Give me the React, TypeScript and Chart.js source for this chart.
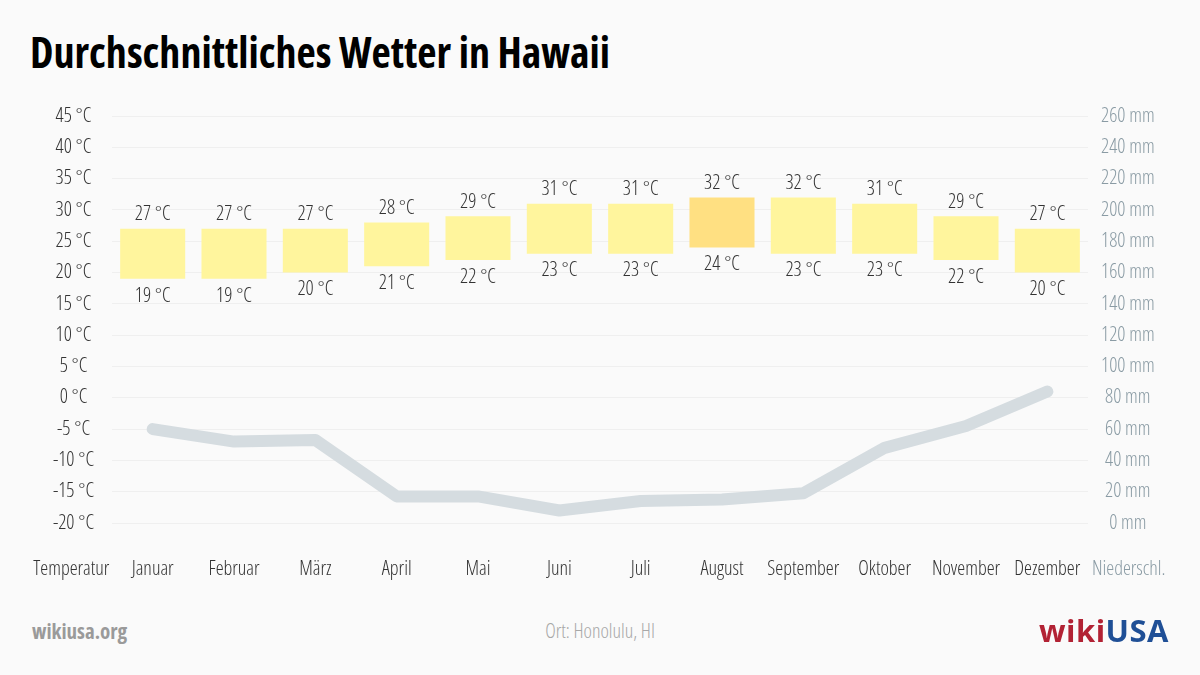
import React, { useEffect, useRef } from "react";
import { Chart, registerables } from "chart.js";

Chart.register(...registerables);

const title = "Durchschnittliches Wetter in Hawaii";
const months = ["Januar", "Februar", "März", "April", "Mai", "Juni", "Juli", "August", "September", "Oktober", "November", "Dezember"];
const tempHigh = [27, 27, 27, 28, 29, 31, 31, 32, 32, 31, 29, 27];
const tempLow = [19, 19, 20, 21, 22, 23, 23, 24, 23, 23, 22, 20];
const precipitation = [60, 52, 53, 17, 17, 8, 14, 15, 19, 48, 62, 84];
const tempAxis = { min: -20, max: 45, step: 5 };
const precipAxis = { min: 0, max: 260, step: 20 };
const leftAxisName = "Temperatur";
const rightAxisName = "Niederschl.";
const location = "Ort: Honolulu, HI";
const siteName = "wikiusa.org";

const FONT = "'Open Sans', 'DejaVu Sans Condensed', sans-serif";
const COND = "condensed 300";
const FS = 20;
const DARK = "#333333";
const BLUEGRAY = "#8a9ba4";
const BAR = "#fff59d";
const BAR_HOT = "#ffe082";
const LINE = "#d5dce0";
const GRID = "#efefef";
const X_PAD = 34;

export default function App() {
  const ref = useRef<HTMLCanvasElement | null>(null);

  useEffect(() => {
    const canvas = ref.current;
    if (!canvas) return;
    let hot = 0;
    tempHigh.forEach((h, i) => {
      if (h + tempLow[i] > tempHigh[hot] + tempLow[hot]) hot = i;
    });
    const barColors = months.map((_, i) => (i === hot ? BAR_HOT : BAR));

    const labelPlugin = {
      id: "labels",
      afterDatasetsDraw(chart: any) {
        const ctx = chart.ctx;
        const meta = chart.getDatasetMeta(1);
        ctx.save();
        ctx.font = `${COND} ${FS}px ${FONT}`;
        ctx.fillStyle = DARK;
        ctx.textAlign = "center";
        ctx.textBaseline = "middle";
        meta.data.forEach((bar: any, i: number) => {
          const top = Math.min(bar.y, bar.base);
          const bottom = Math.max(bar.y, bar.base);
          ctx.fillText(`${tempHigh[i]} °C`, bar.x, top - 14);
          ctx.fillText(`${tempLow[i]} °C`, bar.x, bottom + 17);
        });
        const xs = chart.scales.x;
        const step = xs.getPixelForValue(1) - xs.getPixelForValue(0);
        const y = xs.top + X_PAD + FS * 0.6;
        ctx.fillStyle = DARK;
        ctx.fillText(leftAxisName, xs.getPixelForValue(0) - step, y);
        ctx.fillStyle = BLUEGRAY;
        ctx.fillText(rightAxisName, xs.getPixelForValue(months.length - 1) + step, y);
        ctx.restore();
      },
    };

    const chart = new Chart(canvas, {
      type: "bar",
      data: {
        labels: months,
        datasets: [
          {
            type: "line",
            label: "Niederschlag",
            data: precipitation,
            yAxisID: "yP",
            borderColor: LINE,
            borderWidth: 12,
            borderCapStyle: "round",
            borderJoinStyle: "round",
            pointRadius: 0,
            tension: 0,
            order: 2,
          } as any,
          {
            type: "bar",
            label: "Temperatur",
            data: months.map((_, i) => [tempLow[i], tempHigh[i]]),
            yAxisID: "yT",
            backgroundColor: barColors,
            borderWidth: 0,
            barPercentage: 0.8,
            categoryPercentage: 1,
            order: 1,
          } as any,
        ],
      },
      options: {
        responsive: false,
        animation: false,
        layout: { padding: { top: 0, bottom: 1, left: 0, right: 0 } },
        plugins: { legend: { display: false }, tooltip: { enabled: false } },
        scales: {
          x: {
            grid: { display: false, drawTicks: false },
            border: { display: false },
            ticks: {
              color: DARK,
              padding: X_PAD,
              font: { family: FONT, size: FS, weight: COND as any },
              maxRotation: 0,
              autoSkip: false,
            },
          },
          yT: {
            position: "left",
            min: tempAxis.min,
            max: tempAxis.max,
            afterFit(scale: any) {
              scale.width = 112;
            },
            grid: { color: GRID, drawTicks: false, lineWidth: 1 },
            border: { display: false },
            ticks: {
              stepSize: tempAxis.step,
              color: DARK,
              padding: 18,
              crossAlign: "center",
              font: { family: FONT, size: FS, weight: COND as any },
              callback: (v: any) => `${v} °C`,
            },
          },
          yP: {
            position: "right",
            min: precipAxis.min,
            max: precipAxis.max,
            afterFit(scale: any) {
              scale.width = 112;
            },
            grid: { display: false, drawTicks: false },
            border: { display: false },
            ticks: {
              stepSize: precipAxis.step,
              color: BLUEGRAY,
              padding: 13,
              crossAlign: "center",
              font: { family: FONT, size: FS, weight: COND as any },
              callback: (v: any) => `${v} mm`,
            },
          },
        },
      },
      plugins: [labelPlugin],
    });
    return () => chart.destroy();
  }, []);

  return (
    <div
      style={{
        position: "absolute",
        left: 0,
        top: 0,
        width: 1200,
        height: 675,
        background: "#fafafa",
        overflow: "hidden",
        fontFamily: FONT,
      }}
    >
      <div
        style={{
          position: "absolute",
          left: 30,
          top: 24,
          fontSize: 42,
          fontWeight: 700,
          fontStretch: "75%",
          color: "#000",
          whiteSpace: "nowrap",
          lineHeight: "56px",
        }}
      >
        {title}
      </div>
      <canvas ref={ref} width={1200} height={530} style={{ position: "absolute", left: 0, top: 86, width: 1200, height: 530 }} />
      <div
        style={{
          position: "absolute",
          left: 32,
          top: 617,
          fontSize: 21,
          fontWeight: 700,
          fontStretch: "75%",
          color: "#9a9a9a",
          lineHeight: "28px",
        }}
      >
        {siteName}
      </div>
      <div
        style={{
          position: "absolute",
          left: 0,
          width: 1200,
          top: 618,
          textAlign: "center",
          fontSize: 20,
          fontWeight: 300,
          fontStretch: "75%",
          color: "#a8a8a8",
          lineHeight: "26px",
        }}
      >
        {location}
      </div>
      <div
        style={{
          position: "absolute",
          right: 31,
          top: 610,
          fontSize: 31,
          fontWeight: 700,
          lineHeight: "40px",
          letterSpacing: "0.5px",
        }}
      >
        <span style={{ color: "#b22234" }}>wiki</span>
        <span style={{ color: "#1f4f96" }}>USA</span>
      </div>
    </div>
  );
}
